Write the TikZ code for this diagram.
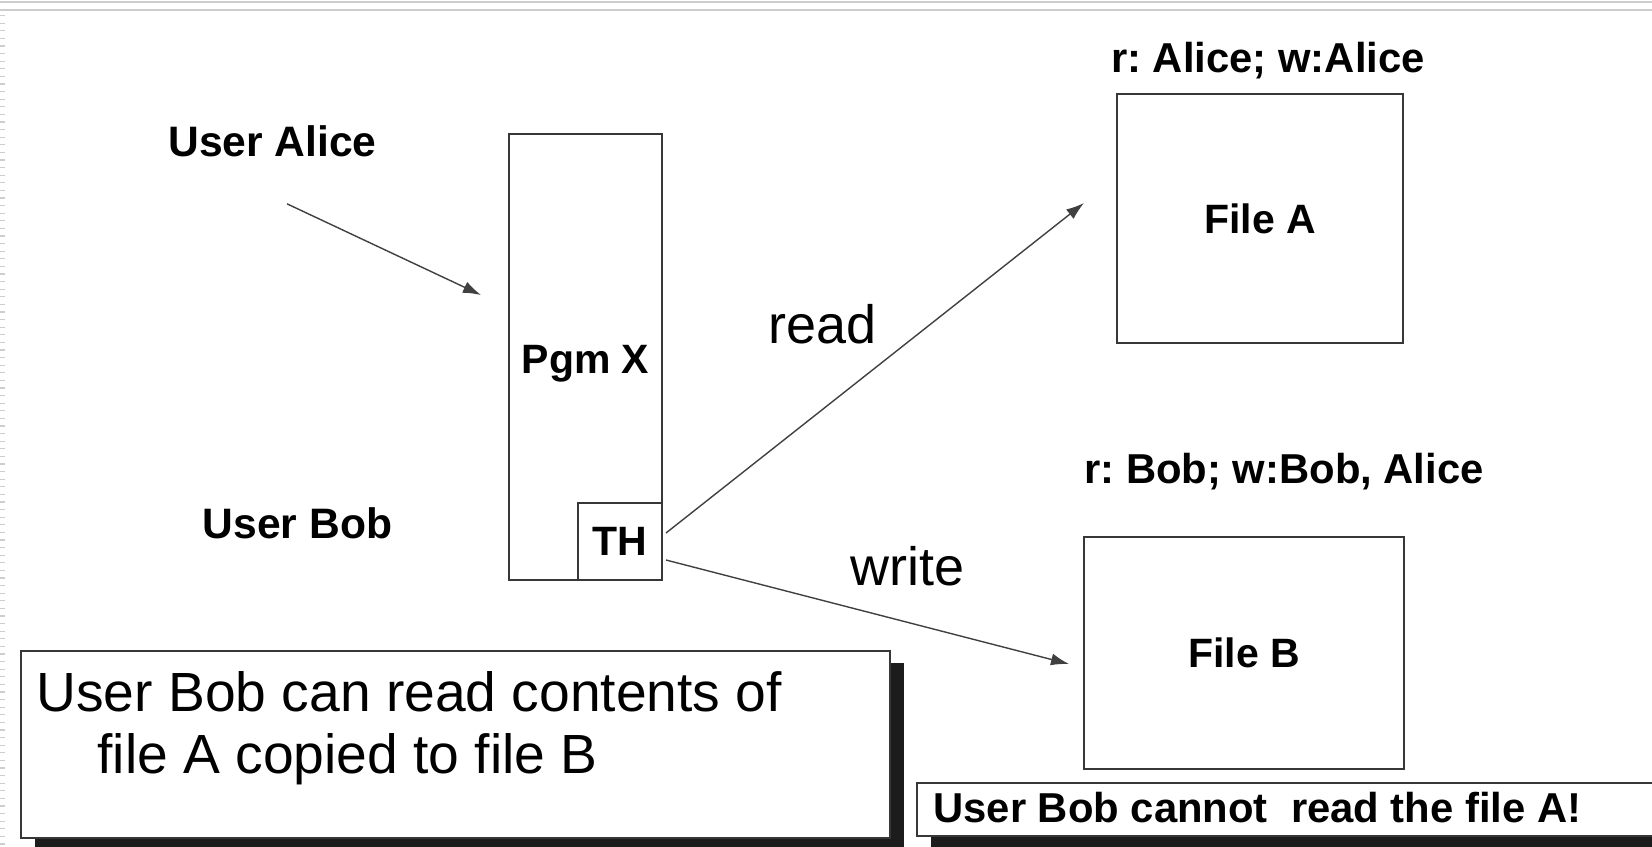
\documentclass[tikz,border=0pt]{standalone}
\usepackage{fontspec}
\setmainfont{Liberation Sans}
\usetikzlibrary{arrows.meta,shadows}
\definecolor{edge_grey}{RGB}{55,55,55}
\definecolor{frame_grey}{RGB}{205,205,205}
\definecolor{shadow_black}{RGB}{28,28,28}
\frenchspacing

\tikzset{
	boxed/.style={draw=edge_grey,line width=1pt,fill=white,inner sep=0pt,font=\fontsize{20.5}{24}\selectfont\bfseries},
	tag/.style={inner sep=0pt,font=\fontsize{21.3}{25}\selectfont\bfseries},
	acl/.style={tag,font=\fontsize{20.9}{25}\selectfont\bfseries},
	verb/.style={inner sep=0pt,font=\fontsize{27}{31}\selectfont},
	flow/.style={draw=black!75,line width=0.7pt,-{Latex[length=9pt,width=6pt]}},
	note/.style={draw=edge_grey,line width=1pt,fill=white,inner sep=0pt,drop shadow={shadow xshift=7pt,shadow yshift=-6pt,fill=shadow_black,opacity=1}}
}

\begin{document}
\begin{tikzpicture}[x=0.5pt,y=-0.5pt]
	\useasboundingbox (0,0) rectangle (1652,846);
	\clip (0,0) rectangle (1652,846);
	% slide frame
	\draw[frame_grey,line width=0.6pt] (0,2) -- (1652,2);
	\draw[frame_grey,line width=0.6pt] (0,10) -- (1652,10);
	\draw[frame_grey,line width=2.5pt,dash pattern=on 0.6pt off 3.2pt] (2.5,15) -- (2.5,846);

	% users
	\node[tag,anchor=base] (alice) at (272.5,156) {User Alice};
	\node[tag,anchor=base] (bob) at (297.5,538) {User Bob};

	% program with trojan horse
	\node[boxed,minimum width=76.5pt,minimum height=223pt] (pgm) at (585.5,357) {};
	\node[boxed,draw=none,fill=none,anchor=base] (pgmname) at (585.5,373) {Pgm X};
	\node[boxed,minimum width=42pt,minimum height=38.5pt] (th) at (620,541.5) {TH};

	% files and their rights
	\node[boxed,minimum width=143pt,minimum height=124.5pt] (fileA) at (1260,218.5) {File A};
	\node[boxed,minimum width=160pt,minimum height=116pt] (fileB) at (1244,653) {File B};
	\node[acl,anchor=base] (aclA) at (1268,72) {r: Alice; w:Alice};
	\node[acl,anchor=base] (aclB) at (1284,483) {r: Bob; w:Bob, Alice};

	% accesses
	\draw[flow] ([xshift=7.25pt,yshift=-23.5pt]alice.south) -- ([xshift=-13.5pt,yshift=31pt]pgm.west);
	\draw[flow] ([xshift=1.5pt,yshift=4.25pt]th.east) -- ([xshift=-16pt,yshift=7.75pt]fileA.west);
	\draw[flow] ([xshift=1.5pt,yshift=-9.25pt]th.east) -- ([xshift=-7pt,yshift=-5.5pt]fileB.west);
	\node[verb,anchor=base west] (readlbl) at (768,343) {read};
	\node[verb,anchor=base west] (writelbl) at (850,585) {write};

	% notes
	\node[note,minimum width=434.5pt,minimum height=93.5pt] (summary) at (455.5,744.5) {};
	\node[verb,font=\fontsize{27.6}{31}\selectfont,anchor=north west,align=left] (summarytext) at (36,671) {User Bob can read contents of\\\hspace*{30.5pt}file A copied to file B};
	\node[note,minimum width=381.5pt,minimum height=26.5pt] (warning) at (1298.5,809.5) {};
	\node[acl,anchor=base west] (warningtext) at (933,822) {User Bob cannot~ read the file A!};
\end{tikzpicture}
\end{document}
